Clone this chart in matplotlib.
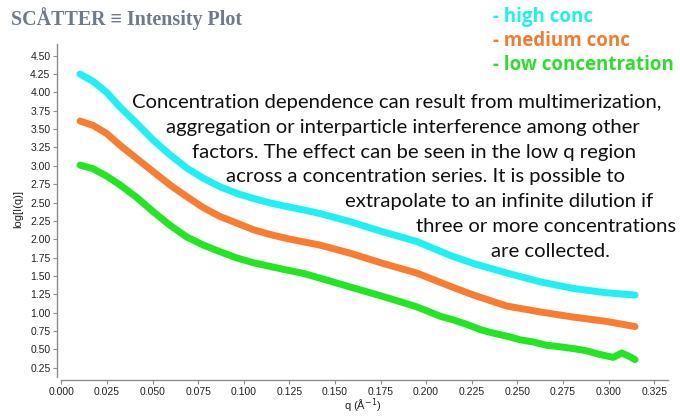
import matplotlib
matplotlib.use('Agg')
import matplotlib.pyplot as plt
import numpy as np

# q values (1/A)
q = [0.0103, 0.0175, 0.0249, 0.0322, 0.0413, 0.0504, 0.0596, 0.0688, 0.0779, 0.0870,
     0.0962, 0.1053, 0.1144, 0.1236, 0.1327, 0.1418, 0.1583, 0.1764, 0.1948, 0.2131,
     0.2259, 0.2442, 0.2624, 0.2805, 0.2990, 0.3145]

high_conc = [4.25, 4.15, 4.00, 3.80, 3.58, 3.35, 3.15, 2.97, 2.83, 2.715,
             2.625, 2.555, 2.495, 2.445, 2.40, 2.35, 2.24, 2.10, 1.97, 1.78,
             1.67, 1.54, 1.42, 1.33, 1.27, 1.24]
medium_conc = [3.61, 3.55, 3.44, 3.28, 3.10, 2.92, 2.74, 2.58, 2.43, 2.31,
               2.22, 2.13, 2.065, 2.01, 1.965, 1.92, 1.81, 1.67, 1.54, 1.36,
               1.24, 1.09, 1.01, 0.94, 0.88, 0.81]

# low concentration is noisier at high q, so it has its own q grid
q_low = [0.0103, 0.0175, 0.0249, 0.0322, 0.0413, 0.0504, 0.0596, 0.0688, 0.0779, 0.0870,
         0.0962, 0.1053, 0.1144, 0.1236, 0.1327, 0.1418, 0.1583, 0.1764, 0.1948, 0.2078,
         0.2150, 0.2223, 0.2296, 0.2369, 0.2442, 0.2515, 0.2588, 0.2661, 0.2734, 0.2807,
         0.2880, 0.2953, 0.3026, 0.3072, 0.3109, 0.3145]
low_conc = [3.01, 2.96, 2.86, 2.74, 2.57, 2.375, 2.19, 2.03, 1.92, 1.83,
            1.745, 1.68, 1.63, 1.58, 1.535, 1.47, 1.35, 1.22, 1.08, 0.95,
            0.90, 0.84, 0.77, 0.72, 0.68, 0.63, 0.60, 0.555, 0.535, 0.51,
            0.48, 0.43, 0.39, 0.45, 0.41, 0.36]

series_names = ['- high conc', '- medium conc', '- low concentration']
line_colors = ['#1ff0f5', '#f97c30', '#22e622']
label_colors = ['#1ff0f0', '#f47b30', '#2ddf2d']

note_lines = [
    'Concentration dependence can result from multimerization,',
    'aggregation or interparticle interference among other',
    'factors. The effect can be seen in the low q region',
    'across a concentration series. It is possible to',
    'extrapolate to an infinite dilution if',
    'three or more concentrations',
    'are collected.',
]
# centre x (px) of each note line
note_cx = [397, 403, 414, 426, 499, 546, 550]

W, H = 680, 420
fig = plt.figure(figsize=(W / 100, H / 100), dpi=100)
ax = fig.add_axes([61.3 / W, 1 - 377 / H, (668 - 61.3) / W, (377 - 44) / H])

for qq, vals, c in zip([q, q, q_low], [high_conc, medium_conc, low_conc], line_colors):
    ax.plot(qq, vals, color=c, lw=5, solid_capstyle='round', solid_joinstyle='round')

ax.set_xlim(0, 0.3326)
ax.set_ylim(0.123, 4.66)
ax.set_xticks(np.arange(0, 0.3251, 0.025))
ax.set_yticks(np.arange(0.25, 4.51, 0.25))
ax.xaxis.set_major_formatter(matplotlib.ticker.FormatStrFormatter('%.3f'))
ax.yaxis.set_major_formatter(matplotlib.ticker.FormatStrFormatter('%.2f'))

for s in ['top', 'right']:
    ax.spines[s].set_visible(False)
ax.spines['left'].set_position(('outward', 2.9))
ax.spines['bottom'].set_position(('outward', 2.2))
for s in ['left', 'bottom']:
    ax.spines[s].set_color('#8c8c8c')
    ax.spines[s].set_linewidth(1)
ax.tick_params(colors='#8c8c8c', labelcolor='#222222', length=2.9, width=0.8, pad=2,
               labelsize=7.5)
for lab in ax.get_xticklabels() + ax.get_yticklabels():
    lab.set_family('Liberation Sans')

fig.text(18 / W, 1 - 209 / H, 'log[I(q)]', rotation=90, ha='center', va='center',
         fontsize=8, family='Liberation Sans', color='#222222')
fig.text(363 / W, 1 - 410 / H, 'q (Å$^{-1}$)', ha='center', va='baseline',
         fontsize=8, family='Liberation Sans', color='#222222')

fig.text(11 / W, 1 - 25 / H, 'SCÅTTER ≡ Intensity Plot', ha='left', va='baseline',
         fontsize=14.4, fontweight='bold', family=['Liberation Serif', 'DejaVu Serif'],
         color='#6f7a8a')

for i, (name, c) in enumerate(zip(series_names, label_colors)):
    fig.text(493 / W, 1 - (21.7 + 24.2 * i) / H, name, ha='left', va='baseline',
             fontsize=13.5, fontweight='bold', family='Open Sans', color=c)

for i, (line, cx) in enumerate(zip(note_lines, note_cx)):
    fig.text(cx / W, 1 - (108 + 24.8 * i) / H, line, ha='center', va='baseline',
             fontsize=14.6, family='Lato', color='#111111')

fig.savefig('out.png', dpi=100)
